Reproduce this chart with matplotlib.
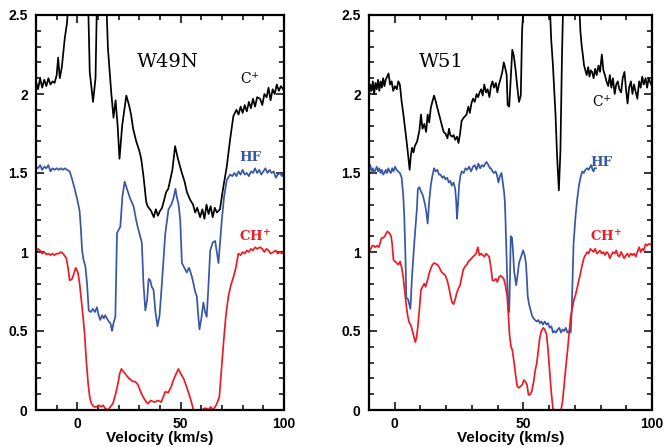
import numpy as np
import matplotlib
matplotlib.use("Agg")
import matplotlib.pyplot as plt
from matplotlib.ticker import MultipleLocator, FuncFormatter

# ---------------- data (velocity km/s, normalized intensity) ----------------
w49n_cplus = [(-20,2.08),(-19,2.03),(-18,2.1),(-17,2.04),(-16,2.09),(-15,2.05),(-14,2.1),(-13,2.06),
    (-12,2.08),(-11,2.07),(-10,2.12),(-9.3,2.23),(-8.5,2.1),(-7.5,2.17),(-6.1,2.35),(-5,2.45),(-4.5,2.55),
    (-3,2.7),(0,2.8),(3,2.8),(5.2,2.6),(6,2.14),(7.6,1.95),(8.8,2.1),(9.5,2.6),(11,2.8),(14,2.6),(14.8,2.29),
    (15.6,2.15),(16.4,2.01),(17.5,1.85),(18.5,1.96),(19.5,1.8),(20.4,1.59),(21.7,1.8),(23.7,1.99),(25,1.93),
    (26,1.87),(27,1.78),(28.5,1.70),(30,1.64),(30.9,1.59),(32,1.48),(33.3,1.32),(34,1.29),(35.7,1.26),
    (37,1.22),(38,1.27),(39,1.23),(40,1.26),(41,1.28),(42,1.33),(43,1.38),(44,1.40),(45,1.46),(46,1.52),
    (47.3,1.67),(48.5,1.6),(49.5,1.55),(50.6,1.5),(52,1.44),(53,1.38),(54.6,1.33),(56,1.30),(57,1.25),
    (58,1.28),(59.4,1.22),(60.5,1.27),(61.5,1.21),(62.5,1.3),(63.5,1.24),(64.5,1.29),(65.5,1.22),(66.5,1.28),
    (67.5,1.25),(69,1.27),(70.5,1.4),(72.3,1.54),(74,1.72),(75.5,1.86),(77,1.90),(78,1.87),(79,1.92),
    (80,1.88),(81,1.93),(82,1.89),(83,1.95),(84,1.91),(85,1.97),(86,1.92),(87,1.98),(88.4,1.97),(89.5,1.93),
    (90.5,2.0),(91.6,1.98),(92.5,2.04),(93.5,1.96),(94.5,2.03),(95.5,2.0),(96.5,2.06),(97.5,2.02),(98.5,2.05),
    (99.6,2.03),(100,2.02)]

w49n_hf = [(-20,1.54),(-19,1.53),(-18,1.55),(-17,1.52),(-16,1.54),(-15,1.53),(-14,1.55),(-13,1.51),(-12,1.53),
    (-11,1.52),(-10,1.53),(-9,1.52),(-8,1.53),(-7,1.52),(-6,1.53),(-5,1.52),(-3.7,1.51),(-2.5,1.46),(-1.3,1.40),
    (0,1.33),(1.1,1.26),(1.7,1.15),(2.3,1.01),(3,0.95),(3.9,0.91),(4.7,0.8),(5.5,0.63),(6.5,0.62),(7.5,0.64),
    (8.5,0.62),(9.5,0.65),(10.3,0.6),(11.1,0.57),(12,0.6),(12.8,0.58),(13.5,0.6),(14.3,0.58),(15.2,0.56),
    (16,0.55),(16.8,0.50),(17.5,0.55),(18.4,0.59),(19.2,1.12),(20,1.14),(20.8,1.16),(21.8,1.35),(22.9,1.445),
    (24,1.40),(25.5,1.34),(27.2,1.29),(28.8,1.18),(30,1.12),(31.2,1.06),(32,0.8),(32.9,0.63),(33.8,0.7),
    (34.5,0.83),(35.3,0.82),(36,0.78),(36.9,0.76),(37.8,0.62),(38.8,0.53),(39.8,0.6),(40.9,0.8),(41.7,0.95),
    (42.5,1.11),(44.1,1.27),(45.5,1.3),(46.5,1.34),(47.5,1.40),(48.1,1.35),(49,1.3),(49.8,1.2),(50.6,0.93),
    (51.8,0.9),(53,0.87),(54,0.9),(54.6,0.88),(55.5,0.84),(56.2,0.80),(57,0.75),(57.8,0.72),(58.5,0.6),
    (59.1,0.51),(60,0.58),(61,0.68),(61.8,0.62),(62.6,0.59),(63.3,0.75),(64.3,1.01),(65.5,1.06),(66.7,1.07),
    (67.5,1.0),(68.3,0.93),(69,1.05),(69.9,1.2),(71,1.35),(72.3,1.455),(73.9,1.49),(75,1.48),(76,1.5),
    (77,1.48),(78,1.51),(79,1.49),(80,1.52),(81,1.49),(82,1.5),(83,1.48),(84,1.51),(85,1.5),(86,1.53),
    (87,1.5),(88,1.52),(89,1.49),(90,1.51),(91,1.53),(92,1.5),(93,1.52),(94,1.5),(95,1.51),(96,1.47),
    (97,1.49),(98,1.5),(99,1.48),(100,1.5)]

w49n_chp = [(-20,1.0),(-19,1.02),(-18,1.01),(-17,0.99),(-16,1.0),(-15,0.985),(-14,0.99),(-13,0.98),(-12,0.99),
    (-11,0.98),(-10,0.99),(-9,0.99),(-8,1.0),(-6.9,0.99),(-5.3,0.96),(-4.5,0.9),(-3.7,0.82),(-2.5,0.83),
    (-1.5,0.87),(-0.8,0.90),(0.3,0.87),(1.1,0.8),(1.9,0.70),(2.7,0.6),(3.5,0.485),(4.3,0.32),(5.2,0.17),
    (6,0.08),(6.8,0.04),(8,0.02),(9.2,0.02),(10.5,0.03),(11.5,0.02),(12.4,0.03),(13.5,0.01),(14.8,0.0),
    (16,0.02),(17.2,0.04),(18.5,0.1),(19.7,0.17),(20.5,0.23),(21.3,0.26),(22.5,0.24),(23.7,0.22),(25,0.2),
    (26,0.19),(26.9,0.18),(28,0.18),(29.3,0.16),(30.5,0.12),(31.7,0.085),(32.9,0.06),(34.1,0.04),(35.5,0.06),
    (37.3,0.05),(39,0.06),(40.6,0.05),(41.5,0.08),(42.5,0.115),(44,0.11),(45.5,0.15),(46.5,0.19),(47.5,0.22),
    (48.9,0.26),(50,0.23),(51.4,0.20),(52.5,0.16),(53.8,0.11),(55,0.06),(56.2,0.0),(57.5,-0.01),(59,0.0),
    (60.5,0.0),(61.5,0.01),(62.6,0.01),(63.5,0.0),(64.5,0.02),(65.5,0.0),(66.7,0.02),(67.5,0.04),(68.7,0.08),
    (69.7,0.25),(70.7,0.42),(71.9,0.6),(73.1,0.72),(74.3,0.79),(75.5,0.84),(76.7,0.9),(77.9,0.99),(79,0.98),
    (80,1.0),(81,0.99),(82,1.01),(83,1.0),(84,1.02),(85,1.01),(86,1.03),(87,1.02),(88.4,1.03),(89.5,1.02),
    (90.5,1.0),(91.5,1.02),(92.5,1.01),(93.5,0.99),(94.9,1.0),(96,1.01),(97,0.99),(98,1.0),(99,0.99),(100,1.0)]

w51_cplus = [(-10,1.99),(-9.5,2.06),(-9,2.02),(-8.5,2.08),(-8,2.0),(-7.5,2.07),(-7,2.03),(-6.5,2.09),(-6,2.02),
    (-5.5,2.08),(-5,2.04),(-4.5,2.1),(-4,2.05),(-3.5,2.09),(-2.4,2.13),(-1.8,2.06),(-1.2,2.08),(-0.6,2.02),
    (0.1,2.05),(0.8,2.03),(1.4,2.08),(2,2.06),(2.7,1.95),(3.3,1.88),(3.9,1.80),(4.4,1.73),(4.9,1.66),(5.4,1.58),
    (5.8,1.52),(6.2,1.6),(6.7,1.66),(7.3,1.63),(7.8,1.67),(8.7,1.70),(9.6,1.77),(10.2,1.87),(10.8,1.78),
    (11.5,1.81),(12.2,1.76),(12.8,1.87),(13.4,1.82),(14,1.91),(14.6,1.95),(15.3,1.99),(16,1.95),(16.6,1.91),
    (17.4,1.86),(18.4,1.80),(19,1.76),(19.7,1.75),(20.5,1.72),(21.1,1.78),(21.6,1.74),(22.3,1.73),(22.9,1.74),
    (23.5,1.71),(24.2,1.73),(24.8,1.69),(25.4,1.75),(26,1.83),(26.8,1.85),(27.9,1.87),(28.6,1.92),(29.2,1.88),
    (29.8,1.94),(30.4,1.97),(31.1,1.95),(31.8,2.0),(32.4,1.98),(33,2.01),(33.6,2.03),(34.2,1.99),(34.8,2.06),
    (35.5,2.01),(36.1,2.03),(36.8,1.98),(37.4,2.05),(38,2.08),(38.6,2.04),(39.3,2.07),(39.9,2.01),(40.5,2.06),
    (41.2,2.10),(41.8,2.14),(42.4,2.2),(43,2.16),(43.5,2.12),(43.9,1.93),(44.5,1.92),(45.1,2.1),(45.7,2.28),
    (46.3,2.24),(47,2.15),(47.6,2.05),(48.3,1.95),(49,1.99),(49.5,2.4),(50.2,2.6),(52,2.8),(56,2.8),(59,2.8),
    (60.2,2.6),(60.8,2.35),(61.5,2.18),(62.1,2.0),(62.5,1.87),(63.1,1.61),(63.8,1.39),(64.4,1.64),(65,2.23),
    (65.5,2.6),(67,2.8),(71,2.8),(71.6,2.6),(72.2,2.39),(72.7,2.3),(73.1,2.25),(73.6,2.18),(74.1,2.15),
    (74.6,2.12),(75.2,2.17),(75.7,2.11),(76.2,2.15),(76.7,2.14),(77.3,2.1),(77.9,2.16),(78.5,2.12),(79.2,2.18),
    (79.8,2.14),(80.5,2.25),(81.1,2.15),(81.7,2.12),(82.3,2.08),(83,2.05),(83.6,2.12),(84.2,2.04),(84.8,2.1),
    (85.5,2.0),(86.1,2.06),(86.7,2.08),(87.3,2.03),(88,2.01),(88.6,2.1),(89.3,2.14),(89.9,2.03),(90.5,1.94),
    (91.1,2.04),(91.8,2.08),(92.4,2.0),(93,2.06),(93.7,2.01),(94.3,1.97),(95,2.08),(95.6,2.04),(96.2,2.11),
    (96.8,2.06),(97.5,2.1),(98.1,2.04),(98.7,2.1),(99.4,2.07),(100,2.05)]

w51_hf = [(-10,1.53),(-9.5,1.55),(-9,1.51),(-8.5,1.53),(-8,1.5),(-7.5,1.52),(-7,1.54),(-6.5,1.51),(-6,1.53),
    (-5.5,1.5),(-5,1.52),(-4.5,1.49),(-4,1.5),(-3.5,1.52),(-3,1.5),(-2.5,1.53),(-2,1.51),(-1.5,1.5),(-1,1.53),
    (-0.5,1.51),(0.1,1.54),(0.7,1.52),(1.3,1.51),(2,1.5),(2.7,1.47),(3.3,1.36),(3.7,1.23),(4.2,0.95),(4.5,0.71),
    (5.2,0.70),(6.1,0.64),(6.7,0.84),(7.7,1.08),(8.6,1.27),(9,1.40),(9.6,1.41),(10.3,1.38),(10.9,1.36),
    (11.8,1.30),(12.3,1.25),(12.8,1.18),(13.4,1.32),(14,1.42),(14.6,1.48),(15.3,1.53),(15.9,1.51),(16.6,1.52),
    (17.2,1.49),(17.8,1.49),(18.5,1.47),(19.1,1.48),(19.7,1.46),(20.4,1.47),(21,1.44),(21.6,1.45),(22.2,1.42),
    (22.9,1.44),(23.5,1.4),(23.9,1.32),(24.2,1.21),(24.6,1.3),(25,1.42),(25.5,1.48),(26,1.51),(26.8,1.5),
    (27.5,1.53),(28.2,1.52),(28.9,1.54),(29.7,1.51),(30.4,1.54),(31.1,1.55),(31.8,1.52),(32.5,1.56),(33.2,1.53),
    (33.9,1.55),(34.6,1.54),(35.2,1.56),(35.7,1.57),(36.4,1.55),(37,1.53),(37.4,1.53),(38,1.51),(38.6,1.50),
    (39.2,1.51),(39.7,1.49),(40.3,1.44),(40.9,1.48),(41.5,1.5),(42,1.44),(42.5,1.38),(42.8,1.32),(43,1.23),
    (43.4,1.0),(43.7,0.84),(44.1,0.63),(44.5,0.62),(44.8,0.84),(45.1,1.10),(45.6,1.09),(46,1.0),(46.4,0.88),
    (47.2,0.79),(47.8,0.86),(48.3,0.93),(49.1,0.97),(49.9,1.01),(50.5,0.98),(51,0.93),(51.4,0.82),(51.7,0.72),
    (52.2,0.67),(52.7,0.64),(53.3,0.6),(53.9,0.58),(54.5,0.57),(55.2,0.56),(55.8,0.57),(56.4,0.55),(57,0.56),
    (57.6,0.54),(58.3,0.56),(59,0.54),(59.6,0.55),(60.2,0.52),(60.9,0.53),(61.5,0.49),(62.1,0.5),(62.7,0.49),
    (63.4,0.51),(64,0.52),(64.6,0.49),(65.3,0.51),(65.9,0.50),(66.5,0.52),(67.1,0.49),(67.8,0.5),(68.4,0.49),
    (68.8,0.63),(69.5,1.05),(70.3,1.23),(70.9,1.33),(71.6,1.42),(72.2,1.47),(72.9,1.51),(73.5,1.5),(74.1,1.52),
    (74.8,1.53),(75.4,1.52),(76,1.54),(76.4,1.55),(76.9,1.52),(77.3,1.51),(77.7,1.53),(78.2,1.53)]

w51_chp = [(-10,1.0),(-9.3,1.02),(-8.7,1.04),(-8.1,1.04),(-7.5,1.03),(-6.8,1.04),(-6.2,1.03),(-5.6,1.06),
    (-5.2,1.087),(-4.5,1.09),(-3.8,1.1),(-3.3,1.12),(-2.8,1.13),(-2.1,1.12),(-1.4,1.10),(-1,1.05),(-0.5,0.95),
    (0.1,0.94),(0.8,0.93),(1.4,0.92),(2.1,0.94),(2.7,0.9),(3.3,0.84),(3.9,0.75),(4.5,0.66),(5,0.6),(5.5,0.56),
    (6.4,0.53),(7.2,0.48),(8,0.43),(8.5,0.46),(9,0.53),(9.6,0.64),(10.2,0.76),(10.8,0.78),(11.5,0.80),(12,0.78),
    (12.7,0.82),(13.4,0.865),(14.1,0.9),(14.7,0.92),(15.3,0.93),(16,0.925),(16.6,0.92),(17.4,0.9),(18,0.88),
    (18.4,0.87),(19.1,0.86),(19.7,0.85),(20.4,0.82),(21,0.78),(21.7,0.72),(22.3,0.68),(22.9,0.67),(23.5,0.7),
    (24.1,0.74),(24.8,0.77),(25.4,0.79),(26,0.84),(26.7,0.89),(27.4,0.91),(28,0.92),(28.6,0.94),(29.3,0.95),
    (29.9,0.96),(30.4,0.97),(31.1,0.98),(31.6,0.99),(32.3,1.03),(32.9,0.98),(33.6,0.99),(34.2,0.98),(34.9,0.97),
    (35.5,0.99),(36.1,0.98),(36.7,0.97),(37.4,0.9),(38,0.82),(38.7,0.82),(39.3,0.83),(39.9,0.81),(40.5,0.84),
    (41.2,0.85),(41.8,0.84),(42.4,0.83),(43,0.79),(43.7,0.72),(44.2,0.6),(44.6,0.48),(45.2,0.4),(45.7,0.38),
    (46.4,0.3),(47,0.22),(47.6,0.15),(48.3,0.14),(48.9,0.15),(49.6,0.16),(50.2,0.19),(50.8,0.18),(51.4,0.16),
    (52,0.095),(52.7,0.1),(53.3,0.12),(54,0.18),(54.6,0.25),(55.2,0.295),(55.8,0.38),(56.4,0.46),(57,0.5),
    (57.7,0.52),(58.3,0.51),(59,0.48),(59.6,0.38),(60.2,0.25),(60.8,0.12),(61.5,0.01),(62.2,0.0),(63,-0.01),
    (63.7,0.0),(64.5,-0.01),(65.2,0.05),(65.9,0.17),(66.5,0.27),(67.2,0.38),(67.8,0.49),(68.4,0.59),(69.1,0.65),
    (69.7,0.7),(70.3,0.73),(71,0.78),(71.6,0.82),(72.2,0.865),(72.9,0.92),(73.5,0.96),(74.1,0.98),(74.8,1.0),
    (75.4,0.99),(76,1.02),(76.7,1.01),(77.3,1.0),(77.9,1.02),(78.6,0.99),(79.2,1.0),(79.8,1.01),(80.5,0.99),
    (81.1,1.0),(81.7,0.98),(82.3,1.0),(83,0.99),(83.6,0.96),(84.2,0.98),(84.8,1.0),(85.5,0.99),(86.1,1.01),
    (86.7,0.98),(87.3,0.97),(88,1.0),(88.6,0.98),(89.2,0.96),(89.9,0.98),(90.5,0.99),(91.1,0.97),(91.8,0.99),
    (92.4,0.98),(93,0.99),(93.7,0.97),(94.3,1.0),(95,1.03),(95.6,1.0),(96.2,1.02),(96.8,1.01),(97.5,1.05),
    (98.1,1.04),(98.7,1.05),(99.4,1.05),(100,1.04)]

panel_titles = ["W49N", "W51"]
xlims = [(-20, 100), (-10, 100)]
ytick_values = [0, 0.5, 1, 1.5, 2, 2.5]
xtick_values = [0, 50, 100]
xlabel = "Velocity (km/s)"

# label placement (data coords): title, C+, HF, CH+
label_pos = [
    {"title": (44, 2.2), "cp": (83.5, 2.10), "hf": (83.5, 1.60), "ch": (86, 1.095)},
    {"title": (18, 2.2), "cp": (80.4, 1.95), "hf": (80.2, 1.565), "ch": (82.3, 1.095)},
]

BLACK = "#000000"
BLUE = "#3756a6"
RED = "#ec1c24"

plt.rcParams["mathtext.fontset"] = "dejavuserif"

fig = plt.figure(figsize=(6.65, 4.47), dpi=100)
W, H = 665, 447
boxes = [(36, 15, 284, 410), (369, 15, 652, 410)]
series = [(w49n_cplus, w49n_hf, w49n_chp), (w51_cplus, w51_hf, w51_chp)]

for i, (x0, y0, x1, y1) in enumerate(boxes):
    ax = fig.add_axes([x0 / W, 1 - y1 / H, (x1 - x0) / W, (y1 - y0) / H])
    cp, hf, ch = series[i]
    for data, col in ((cp, BLACK), (hf, BLUE), (ch, RED)):
        arr = np.array(data)
        ax.plot(arr[:, 0], arr[:, 1], color=col, lw=1.25, solid_joinstyle="round")
    ax.set_xlim(*xlims[i])
    ax.set_ylim(0, 2.5)
    ax.set_yticks(ytick_values)
    ax.set_xticks(xtick_values)
    ax.yaxis.set_minor_locator(MultipleLocator(0.1))
    ax.xaxis.set_minor_locator(MultipleLocator(10))
    ax.yaxis.set_major_formatter(FuncFormatter(lambda v, p: "%g" % v))
    ax.tick_params(which="both", direction="in", top=True, right=True, width=1.1)
    ax.tick_params(which="major", length=6, pad=6)
    ax.tick_params(which="minor", length=3.5)
    ax.tick_params(axis="x", which="major", pad=5)
    for lab in ax.get_xticklabels() + ax.get_yticklabels():
        lab.set_fontfamily("Liberation Sans")
        lab.set_fontweight("bold")
        lab.set_fontsize(10)
    for sp in ax.spines.values():
        sp.set_linewidth(1.6)
    ax.set_xlabel(xlabel, fontfamily="Liberation Sans", fontweight="bold", fontsize=11, va="center")
    ax.xaxis.set_label_coords(0.5, -(438 - y1) / (y1 - y0))

    lp = label_pos[i]
    ax.text(*lp["title"], panel_titles[i], ha="center", va="center",
            fontfamily="DejaVu Serif", fontsize=14)
    ax.text(*lp["cp"], r"$\mathrm{C}^{+}$", ha="center", va="center", color=BLACK,
            fontsize=10)
    ax.text(*lp["hf"], "HF", ha="center", va="center", color=BLUE,
            fontfamily="DejaVu Serif", fontweight="bold", fontsize=9.5)
    ax.text(*lp["ch"], r"$\mathbf{CH}^{\mathbf{+}}$", ha="center", va="center", color=RED,
            fontsize=9.5)

fig.savefig("out.png", dpi=100)
